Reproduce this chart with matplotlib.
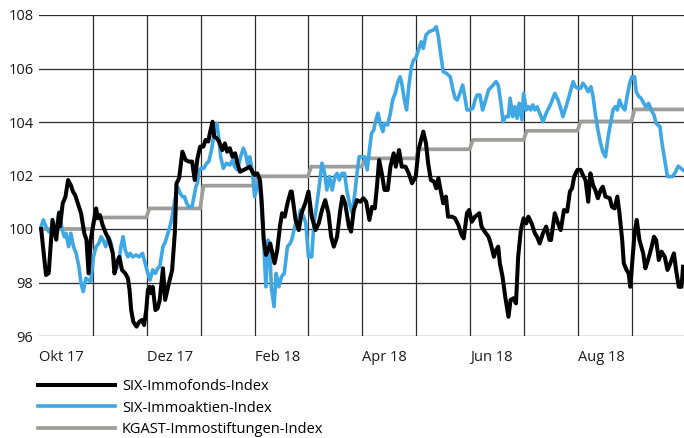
import numpy as np
import matplotlib
matplotlib.use("Agg")
import matplotlib.pyplot as plt

plt.rcParams['font.family'] = ['Open Sans', 'DejaVu Sans']

# x = months since 1 Oct 2017 (gridline every month)
monat_labels = ['Okt 17', 'Dez 17', 'Feb 18', 'Apr 18', 'Jun 18', 'Aug 18']
monat_ticks = [0, 2, 4, 6, 8, 10]

# SIX-Immofonds-Index
fonds_x = [0.04, 0.13, 0.18, 0.25, 0.32, 0.37, 0.39, 0.44, 0.49, 0.54, 0.59, 0.63, 0.67, 0.72,
           0.78, 0.84, 0.88, 0.92, 0.96, 1.01, 1.06, 1.09, 1.13, 1.18, 1.24, 1.30, 1.37, 1.40,
           1.44, 1.49, 1.54, 1.60, 1.65, 1.68, 1.71, 1.75, 1.81, 1.86, 1.91, 1.95, 1.99, 2.02,
           2.05, 2.08, 2.11, 2.16, 2.20, 2.24, 2.30, 2.34, 2.41, 2.47, 2.52, 2.55, 2.60, 2.66,
           2.72, 2.78, 2.84, 2.89, 2.94, 2.99, 3.05, 3.09, 3.14, 3.17, 3.22, 3.25, 3.30, 3.34,
           3.40, 3.45, 3.49, 3.54, 3.59, 3.64, 3.68, 3.73, 3.79, 3.86, 3.91, 3.96, 4.00, 4.05,
           4.10, 4.13, 4.17, 4.21, 4.25, 4.29, 4.33, 4.37, 4.42, 4.47, 4.51, 4.56, 4.61, 4.67,
           4.69, 4.76, 4.82, 4.87, 4.94, 5.00, 5.06, 5.13, 5.19, 5.25, 5.31, 5.37, 5.42, 5.47,
           5.53, 5.59, 5.63, 5.68, 5.75, 5.79, 5.84, 5.90, 5.96, 6.02, 6.07, 6.13, 6.18, 6.23,
           6.27, 6.31, 6.36, 6.41, 6.47, 6.52, 6.58, 6.62, 6.68, 6.73, 6.80, 6.86, 6.92, 6.99,
           7.04, 7.09, 7.13, 7.18, 7.22, 7.27, 7.33, 7.37, 7.41, 7.45, 7.50, 7.55, 7.59, 7.66,
           7.72, 7.78, 7.84, 7.88, 7.94, 7.98, 8.03, 8.09, 8.17, 8.21, 8.27, 8.34, 8.38, 8.44,
           8.48, 8.52, 8.55, 8.60, 8.65, 8.71, 8.75, 8.80, 8.85, 8.89, 8.94, 8.99, 9.04, 9.08,
           9.14, 9.20, 9.24, 9.29, 9.35, 9.41, 9.47, 9.50, 9.57, 9.63, 9.68, 9.74, 9.80, 9.85,
           9.89, 9.93, 9.99, 10.05, 10.09, 10.14, 10.19, 10.23, 10.28, 10.32, 10.37, 10.42,
           10.46, 10.51, 10.59, 10.63, 10.68, 10.73, 10.77, 10.82, 10.85, 10.90, 10.94, 10.97,
           11.02, 11.05, 11.09, 11.14, 11.21, 11.25, 11.30, 11.36, 11.41, 11.45, 11.50, 11.55,
           11.61, 11.66, 11.70, 11.78, 11.82, 11.87, 11.92, 11.95]
fonds_y = [100.0, 98.28, 98.35, 100.34, 99.6, 100.6, 100.1, 100.96, 101.2, 101.83, 101.64, 101.4,
           101.27, 100.96, 100.59, 99.84, 99.6, 98.34, 99.6, 100.21, 100.77, 100.4, 100.52, 100.15,
           99.84, 99.6, 99.09, 98.34, 98.72, 98.96, 98.47, 98.34, 98.16, 97.72, 96.97, 96.53,
           96.35, 96.53, 96.6, 96.41, 96.97, 97.72, 97.84, 97.6, 97.84, 96.97, 97.03, 97.35,
           98.53, 97.35, 97.97, 98.47, 99.85, 101.7, 101.9, 102.89, 102.58, 102.52, 102.52,
           101.83, 102.64, 103.08, 103.08, 103.33, 103.27, 103.58, 104.01, 103.45, 103.39,
           103.27, 102.95, 103.2, 102.89, 103.02, 102.7, 102.83, 102.46, 102.14, 102.2, 102.27,
           102.33, 102.14, 102.02, 102.08, 101.83, 101.08, 99.59, 99.03, 99.21, 99.46, 99.09,
           98.72, 99.21, 100.09, 100.59, 100.46, 100.96, 101.4, 101.4, 100.34, 99.96, 100.59,
           100.96, 101.4, 100.46, 99.96, 100.21, 100.71, 101.08, 100.59, 99.71, 99.34, 99.71,
           100.71, 101.21, 100.96, 100.09, 99.9, 100.71, 101.08, 101.02, 101.15, 101.02, 100.34,
           100.83, 100.77, 101.58, 102.58, 102.08, 101.46, 101.46, 102.33, 102.83, 102.33,
           102.95, 102.33, 102.33, 102.08, 101.71, 101.96, 102.95, 103.33, 103.64, 103.2, 102.46,
           101.83, 101.77, 101.52, 101.9, 101.46, 100.96, 101.21, 100.46, 100.46, 100.4, 100.15,
           99.78, 99.65, 100.59, 100.71, 100.27, 100.46, 100.59, 100.09, 99.9, 99.71, 99.46,
           98.96, 99.21, 99.34, 98.72, 98.22, 97.47, 96.72, 97.35, 97.41, 97.22, 98.96, 99.96,
           100.4, 100.21, 100.46, 100.21, 99.84, 99.71, 99.46, 99.84, 100.09, 99.59, 99.59,
           100.59, 100.21, 99.96, 100.71, 100.65, 101.4, 101.52, 101.96, 102.21, 102.21, 102.02,
           101.83, 101.02, 102.08, 101.64, 101.46, 101.15, 101.46, 101.58, 101.21, 101.15,
           100.83, 100.77, 101.21, 100.59, 99.59, 98.72, 98.47, 98.34, 97.84, 99.09, 99.84,
           100.34, 99.59, 99.09, 98.53, 98.84, 99.28, 99.71, 99.59, 98.84, 99.15, 98.96, 98.47,
           98.65, 99.09, 98.47, 97.84, 97.84, 98.59]

# SIX-Immoaktien-Index
aktien_x = [0.04, 0.08, 0.13, 0.18, 0.24, 0.30, 0.38, 0.43, 0.47, 0.50, 0.55, 0.59, 0.64, 0.69,
            0.74, 0.78, 0.82, 0.87, 0.92, 0.96, 1.01, 1.06, 1.11, 1.15, 1.19, 1.24, 1.29, 1.34,
            1.38, 1.43, 1.48, 1.52, 1.56, 1.60, 1.65, 1.69, 1.74, 1.80, 1.86, 1.92, 1.97, 2.02,
            2.06, 2.11, 2.16, 2.20, 2.24, 2.30, 2.34, 2.43, 2.47, 2.52, 2.57, 2.62, 2.66, 2.70,
            2.74, 2.78, 2.84, 2.91, 2.94, 2.97, 3.01, 3.06, 3.11, 3.15, 3.20, 3.25, 3.30, 3.34,
            3.37, 3.42, 3.48, 3.54, 3.59, 3.63, 3.68, 3.74, 3.79, 3.83, 3.88, 3.91, 3.96, 4.00,
            4.04, 4.08, 4.12, 4.16, 4.21, 4.25, 4.29, 4.31, 4.36, 4.40, 4.45, 4.50, 4.55, 4.61,
            4.66, 4.69, 4.76, 4.81, 4.85, 4.91, 4.95, 5.00, 5.06, 5.10, 5.14, 5.19, 5.25, 5.30,
            5.34, 5.39, 5.44, 5.49, 5.53, 5.57, 5.62, 5.67, 5.71, 5.76, 5.81, 5.86, 5.90, 5.94,
            5.99, 6.04, 6.09, 6.13, 6.17, 6.21, 6.25, 6.29, 6.33, 6.38, 6.41, 6.47, 6.52, 6.56,
            6.61, 6.66, 6.70, 6.73, 6.78, 6.82, 6.86, 6.91, 6.95, 6.99, 7.04, 7.09, 7.13, 7.18,
            7.24, 7.32, 7.37, 7.41, 7.45, 7.50, 7.56, 7.63, 7.68, 7.72, 7.76, 7.81, 7.86, 7.90,
            7.94, 7.98, 8.05, 8.09, 8.13, 8.18, 8.23, 8.27, 8.34, 8.40, 8.48, 8.52, 8.57, 8.61,
            8.66, 8.71, 8.74, 8.79, 8.83, 8.87, 8.91, 8.96, 8.99, 9.04, 9.08, 9.12, 9.16, 9.20,
            9.24, 9.29, 9.35, 9.41, 9.47, 9.50, 9.57, 9.63, 9.68, 9.72, 9.78, 9.85, 9.91, 9.95,
            10.00, 10.05, 10.09, 10.14, 10.19, 10.24, 10.28, 10.32, 10.37, 10.42, 10.46, 10.51,
            10.56, 10.61, 10.65, 10.69, 10.73, 10.77, 10.82, 10.87, 10.91, 10.96, 11.00, 11.05,
            11.08, 11.13, 11.17, 11.22, 11.26, 11.31, 11.36, 11.41, 11.45, 11.52, 11.56, 11.61,
            11.66, 11.72, 11.76, 11.81, 11.86, 11.91, 11.95]
aktien_y = [100.09, 100.34, 100.09, 99.9, 99.96, 99.84, 100.65, 99.96, 99.71, 99.84, 99.34, 99.84,
            99.34, 99.09, 98.59, 97.97, 97.66, 98.16, 98.09, 98.03, 98.96, 99.34, 99.46, 99.71,
            99.59, 99.34, 99.71, 99.46, 98.96, 98.47, 98.72, 99.34, 99.71, 99.21, 98.96, 99.09,
            98.96, 99.03, 98.96, 99.09, 98.72, 98.34, 98.09, 98.47, 98.34, 98.53, 98.59, 99.34,
            99.5, 100.09, 100.46, 101.08, 101.58, 101.33, 101.21, 101.21, 100.96, 100.83, 100.83,
            101.58, 101.71, 102.21, 102.27, 102.27, 102.46, 102.52, 102.95, 103.58, 103.95, 103.33,
            102.7, 102.27, 102.46, 102.39, 102.58, 102.33, 102.21, 102.7, 103.02, 102.83, 102.33,
            102.7, 102.14, 101.21, 101.52, 101.83, 101.08, 99.84, 97.84, 99.59, 98.84, 97.84, 97.1,
            98.34, 97.84, 98.22, 98.34, 99.34, 99.46, 99.6, 100.21, 100.34, 100.71, 100.46, 100.21,
            98.96, 98.96, 100.21, 100.71, 101.46, 102.46, 102.08, 101.46, 101.96, 101.46, 101.96,
            102.08, 101.83, 102.08, 102.08, 101.46, 100.96, 100.59, 101.33, 102.08, 102.7, 102.7,
            102.7, 102.21, 102.95, 103.58, 103.7, 104.08, 104.33, 103.95, 103.64, 103.95, 103.89,
            104.33, 104.82, 105.07, 105.51, 105.69, 105.45, 104.82, 104.45, 105.32, 106.07, 106.32,
            106.38, 106.69, 107.0, 106.75, 107.25, 107.38, 107.44, 107.56, 107.19, 106.57, 105.88,
            105.82, 105.69, 105.2, 104.89, 104.82, 105.07, 105.38, 104.95, 104.45, 104.45, 104.51,
            104.82, 105.01, 105.01, 104.45, 104.7, 105.2, 105.32, 105.51, 105.38, 104.7, 104.01,
            104.2, 104.2, 104.89, 104.2, 104.57, 104.14, 104.7, 104.08, 105.07, 104.45, 104.57,
            104.45, 104.64, 104.45, 104.57, 104.33, 104.01, 104.33, 104.57, 104.7, 105.07, 104.82,
            104.51, 104.2, 104.57, 105.07, 105.51, 105.32, 105.26, 105.26, 105.45, 105.32, 105.13,
            105.32, 104.95, 104.33, 103.7, 103.2, 102.89, 102.7, 103.45, 104.01, 104.45, 104.57,
            104.45, 104.82, 104.57, 104.45, 104.95, 105.45, 105.69, 105.69, 105.13, 104.95, 104.89,
            104.7, 104.57, 104.7, 104.45, 104.26, 103.95, 103.83, 103.2, 102.58, 101.96, 101.96,
            101.96, 102.14, 102.35, 102.27, 102.2]

# KGAST-Immostiftungen-Index: one level per month
kgast_levels = [100.0, 100.43, 100.77, 101.62, 101.97, 102.33, 102.64, 102.98, 103.33, 103.67,
                104.02, 104.47]

# step line with a short ramp at each month change
kgast_x = [0.0]
kgast_y = [kgast_levels[0]]
for i in range(1, len(kgast_levels)):
    kgast_x += [i - 0.01, i + 0.05]
    kgast_y += [kgast_levels[i - 1], kgast_levels[i]]
kgast_x.append(11.97)
kgast_y.append(kgast_levels[-1])

schwarz = '#000000'
blau = '#3fa7e3'
grau = '#9d9d9b'
gitter = '#2b2b2b'

fig = plt.figure(figsize=(6.84, 4.38), dpi=100)
ax = fig.add_axes([39 / 684, 102 / 438, 645 / 684, 321 / 438])

# gridlines
for yv in range(96, 109, 2):
    ax.axhline(yv, color=gitter, lw=0.9, zorder=1)
for m in range(1, 12):
    ax.axvline(m, color=gitter, lw=0.9, zorder=1)

l3, = ax.plot(kgast_x, kgast_y, color=grau, lw=2.7, zorder=2, label='KGAST-Immostiftungen-Index')
l2, = ax.plot(aktien_x, aktien_y, color=blau, lw=2.6, zorder=3, label='SIX-Immoaktien-Index')
l1, = ax.plot(fonds_x, fonds_y, color=schwarz, lw=2.9, zorder=4, label='SIX-Immofonds-Index')

ax.set_xlim(0, 11.967)
ax.set_ylim(96, 108)
ax.set_yticks(range(96, 109, 2))
ax.set_xticks(monat_ticks)
ax.set_xticklabels(monat_labels, ha='left')
ax.tick_params(axis='both', length=0, labelsize=10.5, colors='#1a1a1a')
ax.tick_params(axis='x', pad=10)
ax.tick_params(axis='y', pad=4)
for s in ax.spines.values():
    s.set_visible(False)

fig.legend(handles=[l1, l2, l3], loc='upper left', bbox_to_anchor=(38 / 684, 1 - 379 / 438),
           frameon=False, fontsize=10.5, handlelength=5.3, handletextpad=0.45,
           labelspacing=0.45, borderpad=0, borderaxespad=0)

plt.savefig('out.png', dpi=100)
